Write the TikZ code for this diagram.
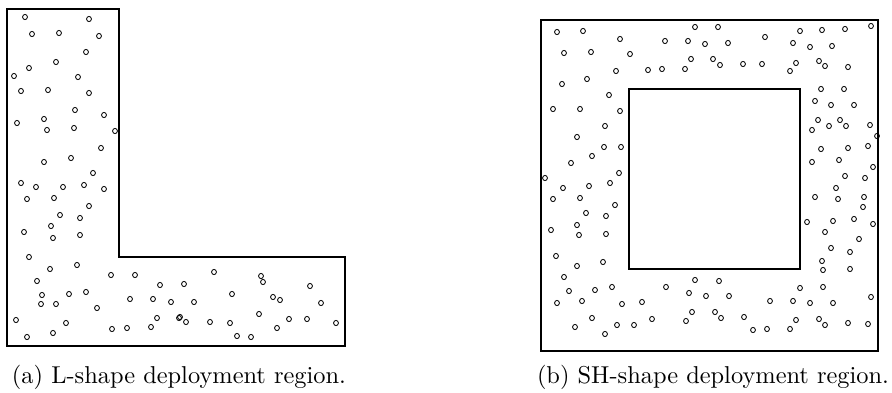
\documentclass[tikz,border=0pt]{standalone}
\begin{document}
\begin{tikzpicture}[x=1pt,y=-1pt,
  region/.style={line width=1.7pt, line join=miter},
  sensor/.style={line width=0.85pt},
  caption/.style={font=\normalsize, scale=2.44, inner sep=0pt, anchor=base}]
\useasboundingbox (0,0) rectangle (892,392);

% (a) L-shaped region
\draw[region] (7,9) -- (119,9) -- (119,257) -- (345,257) -- (345,346) -- (7,346) -- cycle;
\foreach \p in {(25,17),(89,19),(32,34),(59,33),(99,36),(86,52),(56,62),(29,68),(14,76),(78,77),
  (21,91),(48,90),(89,93),(75,110),(104,115),(17,123),(44,119),(47,130),(74,128),(115,131),
  (101,148),(71,158),(44,162),(93,173),(21,183),(36,187),(63,187),(84,185),(104,189),(27,199),
  (54,198),(89,206),(60,215),(80,218),(51,226),(24,232),(53,238),(80,235),
  (29,257),(50,269),(77,265),(37,281),(111,275),(135,275),(160,285),(42,295),(41,304),(56,304),
  (69,294),(86,292),(97,308),(130,299),(153,299),(171,302),(16,320),(66,323),(27,337),(53,333),
  (112,329),(127,328),(151,327),(157,318),(179,318),
  (214,272),(184,284),(194,302),(232,294),(261,276),(263,282),(273,297),(280,300),(310,286),
  (321,303),(180,317),(186,322),(210,322),(230,323),(259,314),(289,319),(307,319),(336,323),
  (277,328),(237,336),(251,337)}
  \draw[sensor] \p ellipse [x radius=2.4, y radius=2.6];
\node[caption] (capa) at (179,383) {(a) L-shape deployment region.};

% (b) square region with a square hole
\draw[region] (541,20) rectangle (878,351);
\draw[region] (629,89) rectangle (800,269);
\foreach \p in {(557,32),(583,31),(620,39),(665,41),(688,41),(705,44),(695,27),(564,53),(591,52),
  (630,54),(691,59),(685,69),(662,69),(648,70),(616,71),(562,84),(587,79),(609,95),(553,109),
  (580,109),(620,111),(605,126),(577,137),(604,147),(621,147),(592,156),(571,163),(619,173),
  (545,178),
  (718,27),(728,43),(765,37),(800,31),(822,30),(845,29),(871,26),(793,43),(810,47),(832,46),
  (713,59),(720,65),(743,64),(762,64),(796,63),(790,71),(819,61),(825,66),(848,67),(821,89),
  (844,89),(815,101),(831,105),(854,105),(818,120),(812,130),(829,126),(840,120),(846,126),
  (870,125),(877,136),(821,149),(848,148),(868,146),(812,162),(839,160),(873,167),(845,176),
  (865,178),
  (563,188),(589,186),(610,183),(553,199),(580,198),(615,205),(586,213),(606,216),(577,225),
  (579,235),(551,230),(606,234),(556,256),(577,266),(603,262),(564,277),(569,291),(595,290),
  (612,287),(666,287),(695,280),(689,293),(706,296),(557,303),(582,301),(622,304),(642,302),
  (692,312),(686,321),(652,319),(592,318),(575,327),(617,325),(634,325),(605,334),
  (836,188),(815,197),(838,199),(864,197),(863,207),(807,222),(833,221),(854,219),(873,224),
  (825,232),(859,239),(831,248),(850,252),(822,261),(823,270),(850,269),(719,281),(800,288),
  (823,287),(729,296),(770,301),(793,301),(810,303),(833,303),(871,297),(715,312),(721,318),
  (744,317),(753,330),(767,329),(796,320),(790,329),(819,319),(825,325),(848,323),(868,324)}
  \draw[sensor] \p ellipse [x radius=2.4, y radius=2.6];
\node[caption] (capb) at (713,383) {(b) SH-shape deployment region.};
\end{tikzpicture}
\end{document}
